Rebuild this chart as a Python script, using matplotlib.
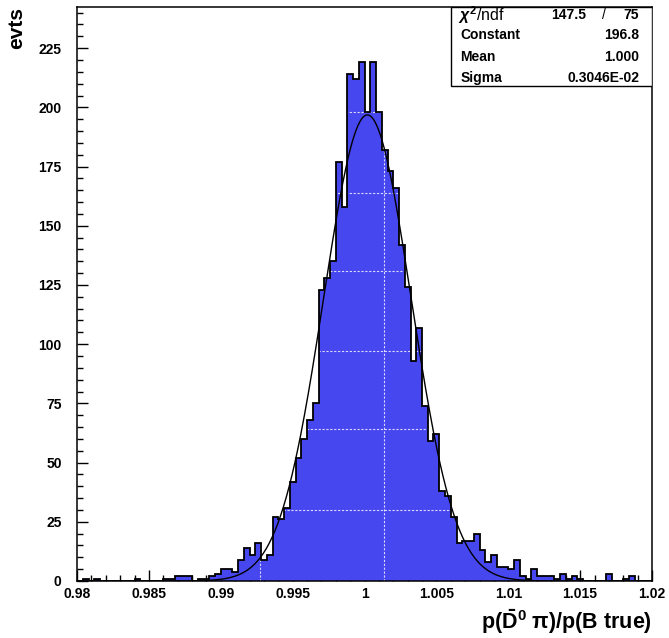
import numpy as np
import matplotlib
matplotlib.use("Agg")
import matplotlib.pyplot as plt
from matplotlib.patches import Rectangle
from matplotlib.ticker import MultipleLocator, FixedLocator

plt.rcParams['font.family'] = ['Liberation Sans', 'DejaVu Sans']
plt.rcParams['font.weight'] = 'bold'
plt.rcParams['mathtext.fontset'] = 'custom'
plt.rcParams['mathtext.rm'] = 'Liberation Sans'
plt.rcParams['mathtext.bf'] = 'Liberation Sans:bold'
plt.rcParams['mathtext.it'] = 'Liberation Sans:italic'

# histogram: 100 bins between 0.98 and 1.02
x_lo, x_hi, n_bins = 0.98, 1.02, 100
counts = [0, 1, 0, 1, 0, 0, 0, 0, 0, 0,
          1, 0, 0, 0, 0, 1, 1, 2, 2, 2,
          0, 1, 1, 2, 3, 5, 5, 4, 9, 14,
          11, 16, 9, 11, 27, 26, 31, 42, 52, 60,
          68, 75, 123, 128, 135, 177, 158, 214, 212, 219,
          198, 219, 198, 182, 173, 166, 142, 124, 93, 107,
          74, 59, 62, 38, 36, 27, 16, 17, 17, 20,
          13, 8, 11, 6, 6, 5, 9, 2, 1, 5,
          2, 2, 2, 1, 3, 1, 2, 1, 0, 0,
          0, 0, 3, 0, 0, 1, 2, 0, 0, 0]

# gaussian fit results
fit_const = 196.8
fit_mean = 1.0002
fit_sigma = 0.3046e-2
chi2, ndf = 147.5, 75

stat_names = ["Constant", "Mean", "Sigma"]
stat_values = ["196.8", "1.000", "0.3046E-02"]

x_ticks = [0.98, 0.985, 0.99, 0.995, 1.0, 1.005, 1.01, 1.015, 1.02]
x_tick_labels = ["0.98", "0.985", "0.99", "0.995", "1", "1.005", "1.01", "1.015", "1.02"]
y_ticks = [0, 25, 50, 75, 100, 125, 150, 175, 200, 225]

edges = np.linspace(x_lo, x_hi, n_bins + 1)
counts = np.array(counts)

fig = plt.figure(figsize=(6.69, 6.38), dpi=100)
ax = fig.add_axes([77 / 669, 57 / 638, 575 / 669, 574.3 / 638])

fill = ax.stairs(counts, edges, fill=True, color='#4747f0', linewidth=0, zorder=2)
ax.stairs(counts, edges, color='black', linewidth=1.3, zorder=3)

# white texture lines seen inside the filled area
for yy in [30, 64, 97, 131, 164, 198]:
    ln, = ax.plot([x_lo, x_hi], [yy, yy], color='white', lw=0.8, ls=(0, (2, 1.5)), alpha=0.8, zorder=2.5)
    ln.set_clip_path(fill)
for xx in [0.99273, 1.00136]:
    ln, = ax.plot([xx, xx], [0, 250], color='white', lw=0.8, ls=(0, (2, 1.5)), alpha=0.8, zorder=2.5)
    ln.set_clip_path(fill)

xf = np.linspace(x_lo, x_hi, 600)
yf = fit_const * np.exp(-0.5 * ((xf - fit_mean) / fit_sigma) ** 2)
ax.plot(xf, yf, color='black', lw=1.0, zorder=4)

ax.set_xlim(x_lo, x_hi)
ax.set_ylim(0, 242.5)

ax.xaxis.set_major_locator(FixedLocator(x_ticks))
ax.set_xticklabels(x_tick_labels)
ax.xaxis.set_minor_locator(MultipleLocator(0.001))
ax.yaxis.set_major_locator(FixedLocator(y_ticks))
ax.yaxis.set_minor_locator(MultipleLocator(5))

ax.tick_params(which='both', direction='in', top=False, right=False, width=1.0, zorder=5)
ax.tick_params(which='major', length=8)
ax.tick_params(which='minor', length=4)
ax.tick_params(axis='y', labelsize=10, pad=11)
ax.tick_params(axis='x', labelsize=10, pad=4)
for lab in ax.get_xticklabels() + ax.get_yticklabels():
    lab.set_fontweight('bold')

for sp in ax.spines.values():
    sp.set_linewidth(1.1)
    sp.set_zorder(6)

ax.set_ylabel("evts", fontsize=15, fontweight='bold', loc='top')
ax.yaxis.set_label_coords(-0.088, 1.0)
ax.set_xlabel(r"p($\mathbf{\bar{D}^0}$ π)/p(B true)", fontsize=15.5, fontweight='bold', loc='right')
ax.xaxis.set_label_coords(1.0, -0.045)

# statistics box
box = Rectangle((0.650, 0.862), 0.350, 0.138, transform=ax.transAxes,
                facecolor='white', edgecolor='black', lw=1.0, zorder=7)
ax.add_patch(box)
row_y = [0.9855, 0.9507, 0.9124, 0.8759]
tx_left = 0.667
tx_right = 0.978
ax.text(tx_left - 0.004, row_y[0], r"$\chi^2$/ndf", transform=ax.transAxes, fontsize=11.5,
        fontweight='normal', va='center', ha='left', zorder=8)
ax.text(0.886, row_y[0], f"{chi2:.1f}", transform=ax.transAxes, fontsize=10,
        va='center', ha='right', zorder=8)
ax.text(0.917, row_y[0], "/", transform=ax.transAxes, fontsize=10, fontweight='normal',
        va='center', ha='center', zorder=8)
ax.text(tx_right, row_y[0], f"{ndf}", transform=ax.transAxes, fontsize=10,
        va='center', ha='right', zorder=8)
for yy, name, val in zip(row_y[1:], stat_names, stat_values):
    ax.text(tx_left, yy, name, transform=ax.transAxes, fontsize=10,
            va='center', ha='left', zorder=8)
    ax.text(tx_right, yy, val, transform=ax.transAxes, fontsize=10,
            va='center', ha='right', zorder=8)

fig.savefig("out.png", dpi=100)
